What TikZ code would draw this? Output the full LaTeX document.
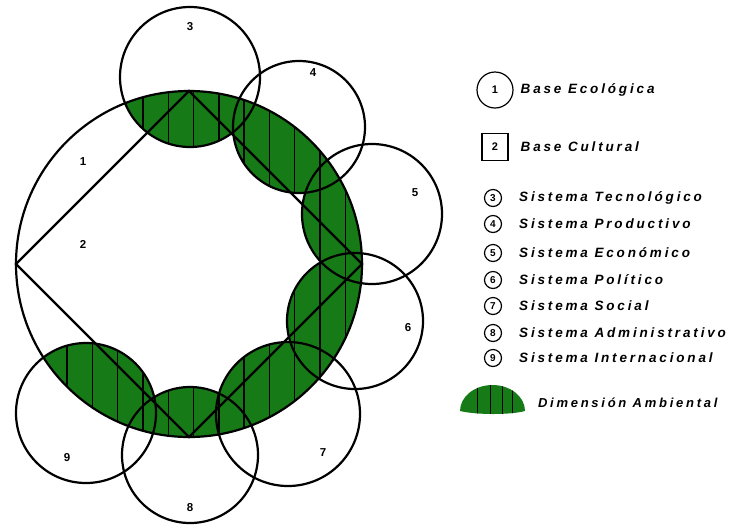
\documentclass[tikz,border=0pt]{standalone}
\usepackage{fontspec}
\setmainfont{Liberation Sans}
\newfontfamily\legfont[LetterSpace=21]{Liberation Sans}
\usetikzlibrary{positioning}
\definecolor{ambgreen}{RGB}{22,122,22}

\begin{document}
\begin{tikzpicture}[x=1pt,y=-1pt,
	line width=2.2pt,
	num/.style={font=\fontsize{11.5}{13}\selectfont\bfseries},
	legnum/.style={draw,circle,line width=1.2pt,minimum size=17pt,inner sep=0pt,font=\fontsize{10}{10}\selectfont\bfseries},
	legtext/.style={anchor=west,inner sep=0pt,font=\fontsize{13.5}{15}\selectfont\legfont\bfseries\itshape},
	hatch/.style={line width=1.4pt}
	]
	\useasboundingbox (0,0) rectangle (746,531);
	\coordinate (c1) at (189,264);
	\coordinate (c3) at (190,77);
	\coordinate (c4) at (299,127);
	\coordinate (c5) at (372,214);
	\coordinate (c6) at (355,321);
	\coordinate (c7) at (288,414);
	\coordinate (c8) at (190,455);
	\coordinate (c9) at (86,413);
	\coordinate (dN) at (189,91);
	\coordinate (dE) at (362,264);
	\coordinate (dS) at (189,437);
	\coordinate (dW) at (16,264);
	% dimension ambiental
	\foreach \c/\r in {c3/70,c4/66,c5/70,c6/68,c7/72,c8/68,c9/70}{
		\begin{scope}
			\clip (c1) circle[radius=173pt];
			\clip (\c) circle[radius=\r pt];
			\fill[ambgreen] (0,0) rectangle (460,531);
			\foreach \k in {0,...,11} \draw[hatch] (67+25.3*\k,0) -- (67+25.3*\k,531);
		\end{scope}
	}
	\draw (c1) circle[radius=173pt];
	\draw (dN) -- (dE) -- (dS) -- (dW) -- cycle;
	\foreach \c/\r in {c3/70,c4/66,c5/70,c6/68,c7/72,c8/68,c9/70}
		\draw (\c) circle[radius=\r pt];
	\node[num] (n1) at (83,162) {1};
	\node[num] (n2) at (83,244) {2};
	\node[num] (n3) at (190,27) {3};
	\node[num] (n4) at (313,73) {4};
	\node[num] (n5) at (415,193) {5};
	\node[num] (n6) at (408,328) {6};
	\node[num] (n7) at (323,453) {7};
	\node[num] (n8) at (190,508) {8};
	\node[num] (n9) at (67,458) {9};
	% legend
	\node[legnum,minimum size=36pt,font=\fontsize{11}{12}\selectfont\bfseries] (l1) at (495,90) {1};
	\node[legtext] (t1) [right=6pt of l1] {Base Ecológica};
	\node[draw,line width=1.2pt,minimum width=26pt,minimum height=27pt,inner sep=0pt,font=\fontsize{11}{12}\selectfont\bfseries] (l2) at (495,147) {2};
	\node[legtext] (t2) [right=11pt of l2] {Base Cultural};
	\foreach \n/\y/\txt in {3/198/Sistema Tecnológico,4/224/Sistema Productivo,5/253/Sistema Económico,6/280/Sistema Político,7/306/Sistema Social,8/333/Sistema Administrativo,9/358/Sistema Internacional}{
		\node[legnum] (l\n) at (493,\y) {\n};
		\node[legtext] (t\n) [right=16pt of l\n] {\txt};
	}
	\begin{scope}
		\clip (460,411) arc[start angle=180,end angle=0,x radius=32.5pt,y radius=26pt] .. controls (510,415) and (477,415) .. (460,411);
		\fill[ambgreen] (455,380) rectangle (530,420);
		\foreach \x in {477,490,502,512} \draw[line width=1pt] (\x,380) -- (\x,420);
	\end{scope}
	\node[legtext,font=\fontsize{13}{15}\selectfont\legfont\bfseries\itshape] (t10) at (537,403) {Dimensión Ambiental};
\end{tikzpicture}
\end{document}
